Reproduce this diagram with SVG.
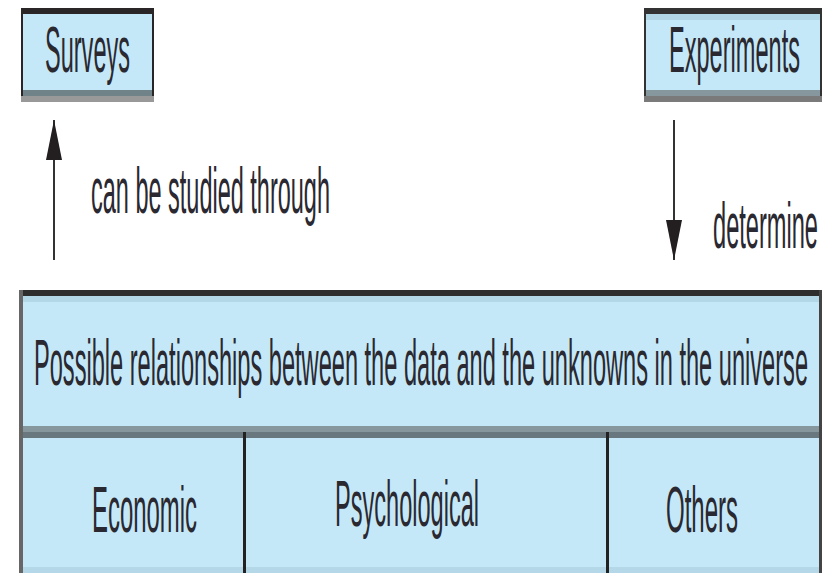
<svg xmlns="http://www.w3.org/2000/svg" width="823" height="573" viewBox="0 0 823 573">
<defs>
<style>
.fill{fill:#c5e8f8}
.t{font-family:"Liberation Sans",Arial,sans-serif;font-size:64px;fill:#2a2830}
.conn{stroke:#333;stroke-width:2;fill:none}
</style>
<marker id="ah" markerUnits="userSpaceOnUse" markerWidth="40" markerHeight="18" refX="40" refY="9" orient="auto" viewBox="0 0 40 18">
<polygon points="0,1 40,9 0,17" fill="#231f20"/>
</marker>
</defs>
<rect width="823" height="573" fill="#fff"/>
<g id="surveys">
<rect x="21" y="8" width="133" height="94" class="fill"/>
<rect x="21" y="8" width="133" height="6" fill="#2a2627"/>
<rect x="21" y="90" width="133" height="6" fill="#6f8389"/>
<rect x="21" y="96" width="133" height="6" fill="#999"/>
<rect x="21" y="8" width="2" height="88" fill="#2a2627"/>
<rect x="152" y="8" width="2" height="88" fill="#2a2627"/>
<text class="t" x="45" y="72" textLength="85" lengthAdjust="spacingAndGlyphs">Surveys</text>
</g>
<g id="experiments">
<rect x="644" y="8" width="178" height="94" class="fill"/>
<rect x="644" y="8" width="178" height="6" fill="#333"/>
<rect x="644" y="14" width="178" height="6" fill="#b2d8e8"/>
<rect x="644" y="90" width="178" height="6" fill="#86989e"/>
<rect x="644" y="96" width="178" height="6" fill="#7a7a7a"/>
<rect x="644" y="8" width="2" height="88" fill="#333"/>
<rect x="820" y="8" width="2" height="88" fill="#333"/>
<text class="t" x="669" y="72" textLength="131" lengthAdjust="spacingAndGlyphs">Experiments</text>
</g>
<g id="table">
<rect x="19" y="290" width="803" height="283" class="fill"/>
<rect x="19" y="290" width="803" height="6" fill="#2e2e2e"/>
<rect x="19" y="296" width="803" height="6" fill="#b2d8e8"/>
<rect x="19" y="426" width="803" height="6" fill="#86989e"/>
<rect x="19" y="432" width="803" height="6" fill="#69777e"/>
<rect x="19" y="567" width="803" height="6" fill="#b5d8e8"/>
<rect x="19" y="290" width="4" height="283" fill="#666"/>
<rect x="819" y="290" width="3" height="283" fill="#444"/>
<rect x="243" y="432" width="3" height="141" fill="#222"/>
<rect x="606" y="432" width="3" height="141" fill="#222"/>
<text class="t" x="34" y="385" textLength="774" lengthAdjust="spacingAndGlyphs">Possible relationships between the data and the unknowns in the universe</text>
<text class="t" x="92" y="532" textLength="105" lengthAdjust="spacingAndGlyphs">Economic</text>
<text class="t" x="335" y="526" textLength="144" lengthAdjust="spacingAndGlyphs">Psychological</text>
<text class="t" x="666" y="532" textLength="72" lengthAdjust="spacingAndGlyphs">Others</text>
</g>
<g id="connectors">
<line class="conn" x1="54" y1="260" x2="54" y2="120" stroke="#666" marker-end="url(#ah)"/>
<text class="t" x="91" y="213" textLength="239" lengthAdjust="spacingAndGlyphs">can be studied through</text>
<line class="conn" x1="674" y1="120" x2="674" y2="260" marker-end="url(#ah)"/>
<text class="t" x="713" y="248" textLength="105" lengthAdjust="spacingAndGlyphs">determine</text>
</g>
</svg>
